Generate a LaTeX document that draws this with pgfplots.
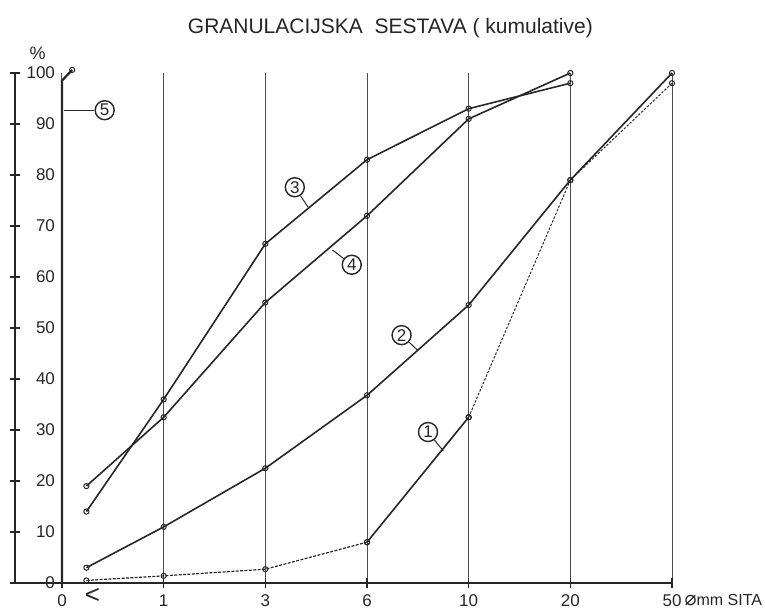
\documentclass[border=0pt]{standalone}
\usepackage{pgfplots}
\pgfplotsset{compat=1.18}
\usepackage{fontspec}
\setmainfont{Liberation Sans}
\newfontfamily\symfont{DejaVu Sans}
\begin{document}
\begin{tikzpicture}[x=1pt,y=1pt]
\useasboundingbox (-7.5,-15) rectangle (375,291.5);
\begin{axis}[
  at={(0,0)}, anchor=south west,
  scale only axis, width=328.5pt, height=255pt,
  xmin=-0.4622, xmax=6, ymin=0, ymax=100,
  clip=false,
  axis lines=left,
  axis line style={-, line width=0.9pt, black!85},
  xtick={0,1,2,3,4,5,6},
  xticklabels={0,1,3,6,10,20,50},
  extra x ticks={0.3},
  extra x tick labels={<},
  extra x tick style={major tick length=0pt, grid=none, xticklabel style={font=\fontsize{13}{13}\selectfont, yshift=1pt}},
  ytick={0,10,...,100},
  tick align=center,
  major tick length=5pt,
  tick style={black!85, line width=0.6pt},
  xmajorgrids,
  grid style={black!70, line width=0.5pt},
  tick label style={font=\fontsize{8.5}{10}\selectfont, black!85},
  /pgf/number format/assume math mode=true,
  yticklabel style={anchor=east, xshift=26pt},
  xticklabel style={yshift=0pt},
  ser/.style={line width=0.8pt, black!85, mark=o, mark size=1.3pt, mark options={solid, fill=white, line width=0.5pt, black!85}},
]
% series 1
\addplot[ser, dash pattern=on 1.5pt off 0.7pt, line width=0.6pt] coordinates {(0.24,0.5) (1,1.4) (2,2.7) (3,8)};
\addplot[ser] coordinates {(3,8) (4,32.5)};
\addplot[ser, dash pattern=on 1.2pt off 0.8pt, line width=0.5pt] coordinates {(4,32.5) (5,79) (6,98)};
% series 2
\addplot[ser] coordinates {(0.24,3) (1,11) (2,22.5) (3,36.8) (4,54.5) (5,79) (6,100)};
% series 3
\addplot[ser] coordinates {(0.24,14) (1,36) (2,66.5) (3,83) (4,93) (5,98)};
% series 4
\addplot[ser] coordinates {(0.24,19) (1,32.5) (2,55) (3,72) (4,91) (5,100)};
% series 5
\addplot[ser, line width=1.1pt, mark indices={3}] coordinates {(0,0) (0,98.5) (0.1,100.6)};

\tikzset{lab/.style={circle, draw, black!85, text=black!85, line width=0.7pt, minimum size=9.5pt, inner sep=0pt, font=\fontsize{8.5}{9}\selectfont}}
\node[lab] (n5) at (axis cs:0.42,92.7) {5};
\draw[line width=0.5pt, black!85] (axis cs:0.02,92.7) -- (n5);
\node[lab] (n3) at (axis cs:2.29,77.6) {3};
\draw[line width=0.5pt, black!85] (n3) -- (axis cs:2.42,73.7);
\node[lab] (n4) at (axis cs:2.85,62.4) {4};
\draw[line width=0.5pt, black!85] (n4) -- (axis cs:2.66,65.3);
\node[lab] (n2) at (axis cs:3.34,48.6) {2};
\draw[line width=0.5pt, black!85] (n2) -- (axis cs:3.5,45.6);
\node[lab] (n1) at (axis cs:3.6,29.6) {1};
\draw[line width=0.5pt, black!85] (n1) -- (axis cs:3.75,25.9);

\node[font=\fontsize{10.5}{12}\selectfont, black!85] at (axis cs:3.23,108.8) {GRANULACIJSKA\ \ SESTAVA\ ( kumulative)};
\node[font=\fontsize{9}{10}\selectfont, black!85] at (axis cs:-0.24,103.9) {\%};
\node[anchor=west, inner sep=0pt, font=\fontsize{8}{9}\selectfont, black!85] at (axis cs:6.12,-3.4) {{\symfont\fontsize{10}{10}\selectfont ⌀}mm SITA};
\end{axis}
\end{tikzpicture}
\end{document}
